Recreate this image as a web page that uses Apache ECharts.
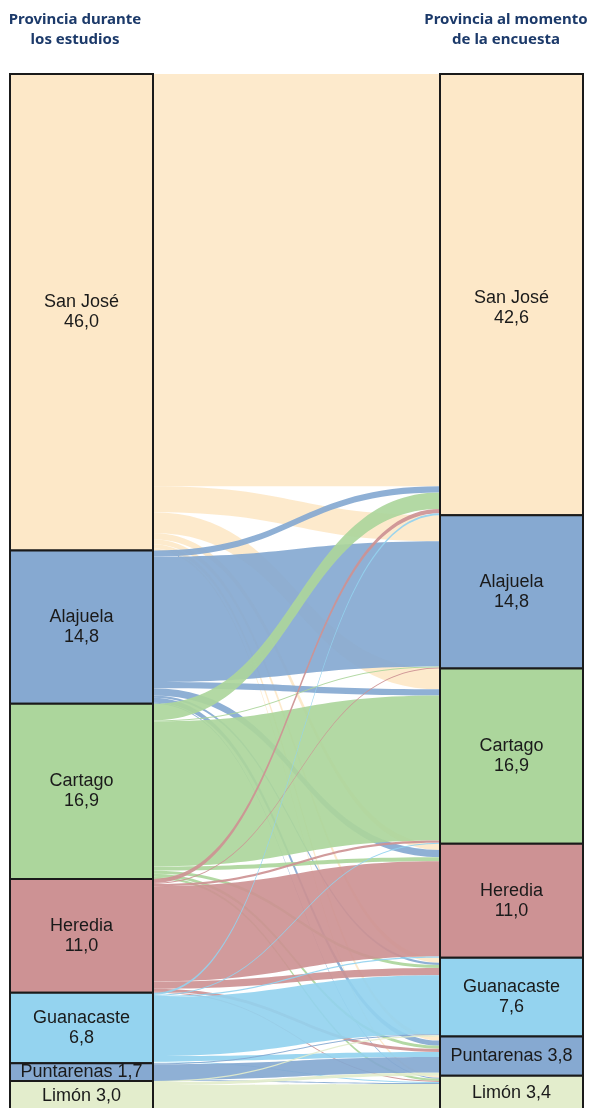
<!DOCTYPE html>
<html>
<head>
<meta charset="utf-8">
<script src="https://cdn.jsdelivr.net/npm/echarts@6/dist/echarts.min.js"></script>
<style>
  html, body { margin: 0; padding: 0; background: #fff; }
  #chart { width: 590px; height: 1108px; }
</style>
</head>
<body>
<div id="chart"></div>
<script>
// provincias (mismo orden en ambas columnas)
const provinces = ['San José', 'Alajuela', 'Cartago', 'Heredia', 'Guanacaste', 'Puntarenas', 'Limón']
// % durante los estudios
const shareBefore = [46.0, 14.8, 16.9, 11.0, 6.8, 1.7, 3.0]
// % al momento de la encuesta
const shareAfter = [42.6, 14.8, 16.9, 11.0, 7.6, 3.8, 3.4]
// flujos: fila = provincia de estudio, columna = provincia actual
const flows = [
  [39.8, 2.5, 2.0, 0.6, 0.5, 0.4, 0.2],
  [0.6, 12.1, 0.6, 0.7, 0.2, 0.5, 0.1],
  [1.6, 0.1, 14.0, 0.4, 0.3, 0.3, 0.2],
  [0.4, 0.1, 0.2, 9.2, 0.7, 0.3, 0.1],
  [0.2, 0.0, 0.1, 0.1, 5.7, 0.5, 0.1],
  [0.0, 0.0, 0.0, 0.0, 0.1, 1.5, 0.1],
  [0.0, 0.0, 0.0, 0.0, 0.1, 0.3, 2.6]
]
const colors = ['#fde8c8', '#86a9d1', '#acd69c', '#cd9294', '#94d3ef', '#86a9d1', '#e3edcc']

const fmt = v => v.toFixed(1).replace('.', ',')

const titleStyle = {
  fontFamily: 'Noto Sans',
  fontWeight: 'bold',
  fontSize: 15,
  lineHeight: 20,
  color: '#1c3a6a'
}

const nodes = []
provinces.forEach((p, i) => {
  nodes.push({ name: 'L' + i, value: shareBefore[i], itemStyle: { color: colors[i] } })
})
provinces.forEach((p, i) => {
  const node = { name: 'R' + i, value: shareAfter[i], itemStyle: { color: colors[i] } }
  // la etiqueta de San José (derecha) va un poco más abajo en el original
  if (i === 0) {
    node.label = { offset: [0, 13] }
  }
  nodes.push(node)
})

const links = []
flows.forEach((row, i) => {
  row.forEach((v, j) => {
    if (v > 0) {
      links.push({ source: 'L' + i, target: 'R' + j, value: v })
    }
  })
})

const chart = echarts.init(document.getElementById('chart'))
chart.setOption({
  animation: false,
  title: [
    {
      text: 'Provincia durante\nlos estudios',
      left: 75,
      top: 10,
      padding: 0,
      textAlign: 'center',
      textStyle: titleStyle
    },
    {
      text: 'Provincia al momento\nde la encuesta',
      left: 506,
      top: 10,
      padding: 0,
      textAlign: 'center',
      textStyle: titleStyle
    }
  ],
  series: [
    {
      type: 'sankey',
      left: 10,
      right: 7,
      top: 74,
      bottom: -4,
      nodeWidth: 143,
      nodeGap: 0,
      layoutIterations: 0,
      draggable: false,
      emphasis: { disabled: true },
      data: nodes,
      links: links,
      itemStyle: {
        borderColor: '#1a1a1a',
        borderWidth: 2
      },
      lineStyle: {
        color: 'source',
        opacity: 0.92,
        curveness: 0.5
      },
      label: {
        position: 'inside',
        align: 'center',
        verticalAlign: 'middle',
        fontFamily: 'Liberation Sans',
        fontSize: 18,
        lineHeight: 20,
        color: '#1a1a1a',
        formatter: p => {
          const i = Number(p.name.slice(1))
          const v = p.name[0] === 'L' ? shareBefore[i] : shareAfter[i]
          return v < 5 ? provinces[i] + ' ' + fmt(v) : provinces[i] + '\n' + fmt(v)
        }
      }
    }
  ]
})
</script>
</body>
</html>
